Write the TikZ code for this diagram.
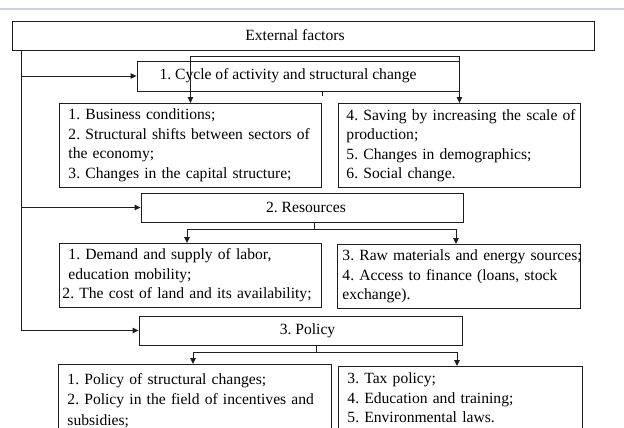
\documentclass[tikz,border=0pt]{standalone}
\usepackage{fontspec}
\setmainfont{Liberation Serif}
\usetikzlibrary{arrows.meta}
\definecolor{ln}{RGB}{30,30,30}
\definecolor{topln}{RGB}{200,209,223}
\frenchspacing
\begin{document}
\begin{tikzpicture}[x=1pt,y=-1pt,
  every node/.style={font=\fontsize{15.6}{19.5}\selectfont\frenchspacing, text=black},
  hbox/.style={draw=ln, line width=0.9pt, minimum height=29pt, inner sep=0pt},
  lbox/.style={draw=ln, line width=0.9pt, anchor=north west, align=left, inner ysep=0pt},
  conn/.style={draw=ln, line width=0.9pt},
  arr/.style={conn, -{Triangle[length=6pt,width=5.5pt]}},
  arrtwo/.style={conn, {Triangle[length=6pt,width=5.5pt]}-{Triangle[length=6pt,width=5.5pt]}}]
\useasboundingbox (0,0) rectangle (624,428);
\draw[topln, line width=1.6pt] (0,9) -- (624,9);

% header boxes
\node[hbox, minimum width=582pt] (ext) at (303,35.5) {External factors\hspace*{16pt}};
\node[hbox, minimum width=322pt, minimum height=30pt] (b1) at (298,76) {1. Cycle of activity and structural change\hspace*{20pt}};
\node[hbox, minimum width=322pt] (b2) at (302,207.5) {\hspace*{8pt}2. Resources};
\node[hbox, minimum width=323pt] (b3) at (300.5,330.5) {\hspace*{14pt}3. Policy};

% detail boxes
\node[lbox, minimum height=84pt, inner xsep=9pt, text width=244pt] (b1a) at (59,103)
  {1. Business conditions;\\2. Structural shifts between sectors of\\the economy;\\3. Changes in the capital structure;};
\node[lbox, minimum height=84pt, inner xsep=8pt, text width=226pt] (b1b) at (338,103)
  {\mbox{4. Saving by increasing the scale of}\\production;\\5. Changes in demographics;\\6. Social change.};
\node[lbox, minimum height=64pt, inner xsep=3pt, text width=256pt] (b2a) at (59,243)
  {\mbox{}\hspace{6pt}1. Demand and supply of labor,\\\mbox{}\hspace{6pt}education mobility;\\2. The cost of land and its availability;};
\node[lbox, minimum height=64pt, inner xsep=5pt, text width=233pt] (b2b) at (337,244)
  {\mbox{3. Raw materials and energy sources;}\\4. Access to finance (loans, stock\\exchange).};
\node[lbox, minimum height=72pt, inner xsep=9pt, text width=255pt, font=\fontsize{15.6}{20.5}\selectfont\frenchspacing] (b3a) at (58,364)
  {1. Policy of structural changes;\\2. Policy in the field of incentives and\\subsidies;};
\node[lbox, minimum height=63pt, inner xsep=9pt, text width=226pt] (b3b) at (338,366)
  {3. Tax policy;\\4. Education and training;\\5. Environmental laws.};

% left trunk
\coordinate (trunk) at (21,0);
\draw[arr] (ext.south -| trunk) |- (b3.west);
\draw[arr] (trunk |- b1.west) -- (b1.west);
\draw[arr] (trunk |- b2.west) -- (b2.west);

% level 1 bracket
\coordinate (brk) at (0,56);
\draw[arrtwo] (b1a.north) -- (b1a.north |- brk) -- (b1b.north |- brk) -- (b1b.north);
\coordinate (tk) at (322,96);
\draw[conn] (tk |- b1.south) -- (tk);

% level 2
\coordinate (s2) at (314,229);
\coordinate (l2) at (187,229);
\coordinate (r2) at (456,229);
\draw[conn] (s2 |- b2.south) -- (s2);
\draw[arrtwo] (l2 |- b2a.north) -- (l2) -- (r2) -- (r2 |- b2b.north);

% level 3
\coordinate (s3) at (316,352);
\coordinate (l3) at (193,352);
\coordinate (r3) at (457,352);
\draw[conn] (s3 |- b3.south) -- (s3);
\draw[arrtwo] (l3 |- b3a.north) -- (l3) -- (r3) -- (r3 |- b3b.north);
\end{tikzpicture}
\end{document}
